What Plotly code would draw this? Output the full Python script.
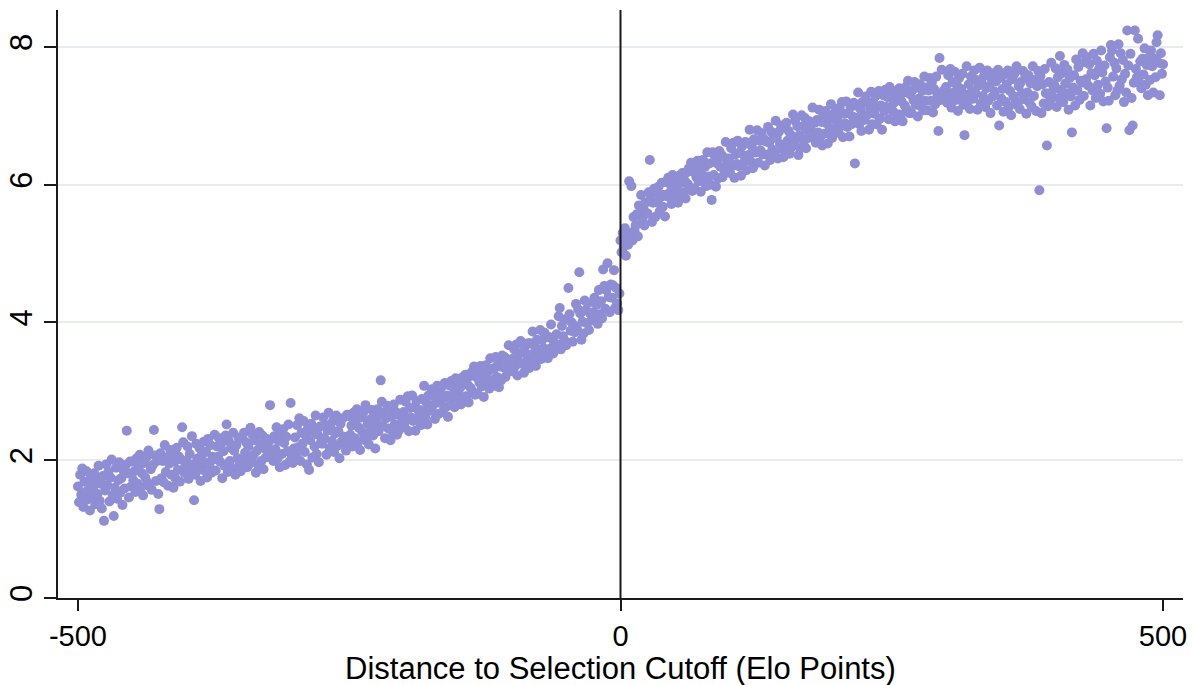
import plotly.graph_objects as go

# Mean outcome by distance to selection cutoff (one bin per Elo point)
# Left of the cutoff: Elo distance -500 .. -1 (25 bins per row)
left_y = [
    1.62, 1.39, 1.79, 1.50, 1.88, 1.32, 1.69, 1.54, 1.84, 1.43, 1.65, 1.27, 1.75, 1.47, 1.59, 1.81, 1.36, 1.71, 1.51, 1.92, 1.41, 1.66, 1.30, 1.77, 1.12,
    1.56, 1.94, 1.64, 1.83, 1.40, 1.75, 2.01, 1.49, 1.19, 1.60, 1.89, 1.44, 1.71, 1.97, 1.53, 1.74, 1.35, 1.85, 1.59, 1.93, 2.43, 1.81, 1.46, 1.98, 1.62,
    1.98, 1.71, 1.84, 1.54, 2.03, 1.66, 1.90, 2.08, 1.60, 1.81, 1.49, 1.96, 1.75, 2.04, 1.68, 2.14, 1.62, 1.87, 1.57, 1.93, 2.44, 2.07, 1.70, 1.99, 1.51,
    1.29, 2.10, 1.74, 1.99, 1.68, 2.22, 1.83, 2.04, 1.63, 1.95, 2.15, 1.79, 2.09, 1.60, 1.98, 1.73, 2.18, 1.86, 2.05, 1.69, 2.01, 2.48, 2.26, 1.82, 1.92,
    1.99, 2.20, 1.73, 2.09, 1.84, 2.35, 1.94, 1.42, 1.79, 2.24, 2.02, 1.90, 2.18, 1.70, 2.08, 1.86, 2.27, 1.97, 2.12, 1.75, 2.31, 1.93, 2.22, 1.82, 2.05,
    2.01, 2.37, 1.85, 2.20, 2.05, 2.32, 1.98, 2.24, 1.74, 2.13, 1.92, 2.36, 2.52, 1.83, 2.28, 1.99, 2.18, 1.88, 2.40, 2.14, 1.79, 2.22, 2.03, 2.33, 1.95,
    1.84, 2.32, 2.03, 2.40, 2.11, 2.26, 1.90, 2.20, 1.95, 2.47, 2.01, 2.37, 2.08, 2.29, 1.82, 2.14, 1.93, 2.41, 2.23, 1.99, 2.36, 1.87, 2.17, 2.04, 2.31,
    2.22, 2.12, 2.80, 2.07, 2.31, 1.99, 2.35, 2.16, 2.48, 2.03, 2.28, 1.90, 2.39, 2.09, 2.45, 2.25, 1.93, 2.34, 2.13, 2.52, 1.98, 2.83, 2.04, 1.96, 2.17,
    2.33, 2.07, 2.51, 2.19, 2.61, 1.99, 2.40, 2.24, 2.57, 2.12, 2.36, 1.94, 2.47, 1.86, 2.29, 2.53, 2.04, 2.42, 2.20, 2.65, 2.09, 2.37, 1.97, 2.49, 2.26,
    2.24, 2.62, 2.32, 2.51, 2.08, 2.43, 2.69, 2.17, 2.47, 2.28, 2.57, 2.12, 2.39, 2.65, 2.21, 2.42, 2.03, 2.53, 2.27, 2.61, 2.34, 2.22, 2.14, 2.66, 2.30,
    2.64, 2.37, 2.50, 2.20, 2.69, 2.32, 2.56, 2.74, 2.26, 2.47, 2.15, 2.62, 2.41, 2.70, 2.34, 2.80, 2.28, 2.53, 2.23, 2.59, 2.44, 2.73, 2.36, 2.65, 2.17,
    2.53, 2.74, 2.42, 2.64, 3.16, 2.85, 2.50, 2.69, 2.32, 2.61, 2.79, 2.46, 2.73, 2.29, 2.63, 2.41, 2.81, 2.52, 2.70, 2.37, 2.66, 2.44, 2.88, 2.49, 2.58,
    2.70, 2.49, 2.85, 2.59, 2.93, 2.42, 2.76, 2.62, 2.94, 2.57, 2.77, 2.43, 2.86, 2.61, 2.72, 2.73, 2.51, 2.89, 2.71, 3.08, 2.62, 2.84, 2.52, 2.94, 2.75,
    2.72, 3.03, 2.79, 2.94, 2.60, 2.88, 3.08, 2.67, 2.98, 2.83, 3.06, 2.70, 2.91, 3.12, 2.77, 2.94, 2.63, 3.09, 2.88, 3.15, 2.93, 3.05, 2.77, 3.19, 2.90,
    3.16, 2.95, 3.05, 2.81, 3.20, 2.91, 3.10, 3.24, 2.93, 3.10, 2.84, 3.22, 3.05, 3.28, 2.99, 3.36, 2.95, 3.21, 2.97, 3.25, 3.13, 3.37, 3.07, 3.30, 2.92,
    3.20, 3.38, 3.09, 3.29, 3.04, 3.48, 3.16, 3.33, 3.08, 3.34, 3.50, 3.21, 3.45, 3.06, 3.36, 3.16, 3.52, 3.35, 3.50, 3.21, 3.47, 3.28, 3.67, 3.32, 3.40,
    3.47, 3.29, 3.61, 3.37, 3.68, 3.23, 3.53, 3.41, 3.73, 3.40, 3.57, 3.27, 3.65, 3.43, 3.53, 3.70, 3.34, 3.70, 3.54, 3.87, 3.46, 3.66, 3.37, 3.75, 3.58,
    3.60, 3.89, 3.47, 3.75, 3.63, 3.85, 3.58, 3.79, 3.48, 3.79, 3.62, 3.97, 3.76, 3.55, 3.70, 3.68, 3.83, 3.68, 4.09, 4.21, 3.61, 3.95, 3.80, 4.04, 3.73,
    3.67, 4.05, 4.50, 4.12, 3.88, 4.00, 3.72, 3.96, 3.86, 4.27, 3.90, 4.19, 4.73, 4.13, 3.75, 4.01, 3.84, 4.32, 4.18, 3.99, 4.28, 3.89, 4.13, 4.03, 4.05,
    4.15, 4.36, 4.04, 4.26, 3.98, 4.47, 4.12, 4.31, 4.06, 4.77, 4.53, 4.20, 4.47, 4.86, 4.37, 4.15, 4.55, 4.36, 4.54, 4.76, 4.21, 4.50, 4.28, 4.18, 4.42,
]

# Right of the cutoff: Elo distance 0 .. 500
right_y = [
    5.19, 5.02, 5.30, 5.10, 5.37, 4.97, 5.23, 5.13, 6.05, 5.30, 5.98, 5.19, 5.53, 5.33, 5.41, 5.57, 5.25, 5.70, 5.56, 5.85, 5.49, 5.66, 5.41, 5.74, 5.59,
    5.58, 5.89, 6.36, 5.80, 5.46, 5.74, 5.94, 5.53, 5.89, 5.74, 5.97, 5.61, 5.82, 6.03, 5.68, 5.85, 5.54, 6.04, 5.83, 6.10, 5.88, 6.00, 5.72, 6.14, 5.85,
    6.09, 5.88, 5.98, 5.74, 6.13, 5.84, 6.03, 6.17, 5.89, 6.06, 5.80, 6.18, 6.01, 6.24, 5.95, 6.32, 5.91, 6.19, 5.95, 6.23, 6.11, 6.35, 6.05, 6.28, 5.90,
    6.15, 6.36, 6.04, 6.26, 5.98, 6.47, 6.12, 6.31, 6.00, 5.78, 6.47, 6.14, 6.41, 5.97, 6.31, 6.09, 6.49, 6.26, 6.44, 6.11, 6.40, 6.18, 6.62, 6.23, 6.32,
    6.38, 6.17, 6.53, 6.27, 6.61, 6.10, 6.44, 6.30, 6.64, 6.27, 6.47, 6.13, 6.56, 6.31, 6.42, 6.62, 6.21, 6.61, 6.43, 6.80, 6.34, 6.56, 6.24, 6.66, 6.47,
    6.47, 6.79, 6.32, 6.64, 6.50, 6.75, 6.44, 6.67, 6.28, 6.63, 6.44, 6.84, 6.61, 6.36, 6.77, 6.51, 6.68, 6.46, 6.93, 6.69, 6.38, 6.77, 6.59, 6.86, 6.52,
    6.40, 6.83, 6.57, 6.90, 6.64, 6.78, 6.45, 6.72, 6.55, 7.02, 6.60, 6.93, 6.66, 6.85, 6.43, 6.72, 6.53, 7.01, 6.85, 6.63, 6.97, 6.53, 6.80, 6.68, 6.92,
    6.82, 6.73, 7.12, 6.68, 6.90, 6.61, 6.94, 6.76, 7.09, 6.69, 6.91, 6.57, 7.01, 6.74, 7.07, 6.89, 6.60, 7.01, 6.82, 7.17, 6.68, 6.96, 6.74, 7.06, 6.85,
    6.97, 6.76, 7.12, 6.86, 7.20, 6.69, 7.03, 6.89, 7.21, 6.84, 7.04, 6.70, 7.13, 6.88, 6.99, 7.19, 6.31, 7.15, 6.97, 7.34, 6.88, 7.10, 6.78, 7.20, 7.01,
    6.94, 7.28, 7.01, 7.19, 6.80, 7.11, 7.35, 6.88, 7.20, 7.03, 7.29, 6.88, 7.13, 7.36, 6.96, 7.15, 6.80, 7.30, 7.07, 7.38, 7.13, 7.27, 6.95, 7.42, 7.10,
    7.31, 7.07, 7.19, 6.92, 7.36, 7.02, 7.24, 7.40, 7.02, 7.21, 6.92, 7.34, 7.15, 7.42, 7.09, 7.51, 7.04, 7.31, 7.04, 7.37, 7.23, 7.49, 7.16, 7.42, 6.99,
    7.25, 7.46, 7.14, 7.36, 7.08, 7.57, 7.22, 7.41, 7.08, 7.37, 7.55, 7.22, 7.49, 7.05, 7.39, 7.17, 7.57, 7.31, 6.78, 7.84, 7.23, 7.67, 7.28, 7.37, 7.33,
    7.42, 7.19, 7.59, 7.30, 7.68, 7.12, 7.49, 7.34, 7.64, 7.23, 7.45, 7.07, 7.55, 7.27, 7.39, 7.61, 7.16, 6.72, 7.31, 7.72, 7.21, 7.46, 7.10, 7.57, 7.36,
    7.25, 7.66, 7.33, 7.52, 7.09, 7.44, 7.70, 7.18, 7.48, 7.29, 7.58, 7.13, 7.40, 7.66, 7.22, 7.43, 7.04, 7.54, 7.28, 7.62, 7.35, 7.50, 7.15, 7.67, 6.86,
    7.55, 7.25, 7.39, 7.06, 7.60, 7.20, 7.46, 7.66, 7.13, 7.36, 7.01, 7.53, 7.29, 7.61, 7.22, 7.72, 7.15, 7.43, 7.10, 7.49, 7.33, 7.65, 7.24, 7.56, 7.03,
    7.34, 7.59, 7.19, 7.47, 7.13, 7.72, 7.29, 7.52, 7.07, 7.43, 7.65, 5.92, 7.58, 7.04, 7.46, 7.18, 7.68, 7.33, 6.57, 7.14, 7.49, 7.23, 7.77, 7.28, 7.39,
    7.44, 7.69, 7.13, 7.56, 7.26, 7.87, 7.38, 7.62, 7.20, 7.74, 7.47, 7.33, 7.67, 7.09, 7.55, 7.28, 6.76, 7.41, 7.59, 7.15, 7.82, 7.37, 7.71, 7.23, 7.51,
    7.48, 7.91, 7.29, 7.78, 7.53, 7.85, 7.44, 7.75, 7.15, 7.62, 7.37, 7.90, 7.59, 7.26, 7.80, 7.45, 7.68, 7.32, 7.95, 7.63, 7.21, 7.73, 7.50, 6.82, 7.41,
    7.22, 7.85, 8.03, 7.95, 7.57, 7.77, 7.30, 7.69, 7.37, 8.04, 7.44, 7.91, 7.53, 7.81, 7.20, 7.61, 7.34, 8.24, 7.73, 6.79, 7.90, 7.26, 6.86, 7.48, 8.24,
    7.68, 7.56, 8.12, 7.48, 7.79, 7.40, 7.83, 7.60, 7.98, 7.45, 7.74, 7.30, 7.85, 7.52, 7.95, 7.72, 7.34, 7.83, 7.56, 8.07, 8.17, 7.77, 7.30, 7.91, 7.61, 7.75,
]

# Elo-point bins: the left series ends at -1, the right series starts at 0
left_x = list(range(-len(left_y), 0))
right_x = list(range(0, len(right_y)))

x_ticks = [-500, 0, 500]
y_ticks = [0, 2, 4, 6, 8]
x_title = "Distance to Selection Cutoff (Elo Points)"

marker_color = "rgb(143,141,211)"
font_family = "Liberation Sans, Arial, sans-serif"

fig = go.Figure()
fig.add_trace(go.Scatter(
    x=left_x + right_x, y=left_y + right_y, mode="markers",
    marker=dict(size=10, color=marker_color, line=dict(width=0)),
    showlegend=False, hoverinfo="skip",
))

fig.add_shape(type="line", x0=0, x1=0, y0=0, y1=1, xref="x", yref="paper",
              line=dict(color="#1a1a1a", width=2), layer="above")

# x-axis title placed as an annotation near the bottom edge of the page
fig.add_annotation(
    text=x_title, xref="paper", yref="paper", x=0.5, y=-89 / 588,
    xanchor="center", yanchor="bottom", showarrow=False, borderpad=0,
    font=dict(family=font_family, size=31, color="black"),
)

fig.update_layout(
    width=1195, height=685,
    margin=dict(l=58, r=12, t=10, b=87),
    paper_bgcolor="white", plot_bgcolor="white",
    font=dict(family=font_family, size=31, color="black"),
    xaxis=dict(
        range=[-518.4, 518.4], tickvals=x_ticks, ticktext=[str(v) for v in x_ticks],
        ticks="outside", ticklen=11, tickwidth=2, tickcolor="#1a1a1a",
        showline=True, linecolor="#1a1a1a", linewidth=2,
        showgrid=False, zeroline=False, automargin=False,
        tickfont=dict(size=29),
    ),
    yaxis=dict(
        range=[0, 8.537], tickvals=y_ticks, ticktext=[str(v) for v in y_ticks],
        ticks="outside", ticklen=12, tickwidth=2, tickcolor="#1a1a1a",
        showline=True, linecolor="#1a1a1a", linewidth=2,
        showgrid=True, gridcolor="#E8ECEF", gridwidth=1.5,
        zeroline=False, tickangle=-90, automargin=False,
        tickfont=dict(size=31),
    ),
)

fig.write_html("out.html")
